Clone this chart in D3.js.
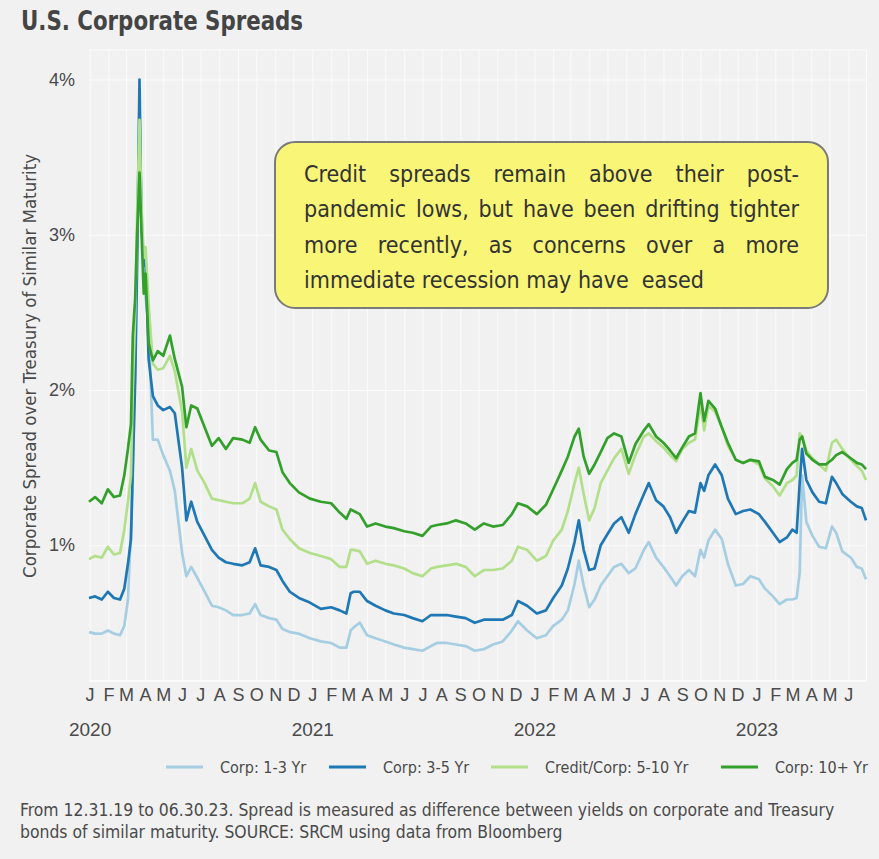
<!DOCTYPE html>
<html>
<head>
<meta charset="utf-8">
<script src="https://cdn.jsdelivr.net/npm/d3@7"></script>
<style>
  body { margin: 0; background: #f1f1f1; }
  svg { display: block; font-family: "Liberation Sans Narrow", "DejaVu Sans Condensed", "Roboto", sans-serif; }
  .grid line { stroke: #fbfbfb; stroke-width: 1; }
  .grid .domain { display: none; }
</style>
</head>
<body>
<svg id="chart" width="879" height="859"></svg>
<script>
// ---- data (percent spread over Treasury) ----
const dates = [
  "2019-12-31","2020-01-10","2020-01-21","2020-01-31","2020-02-10","2020-02-20","2020-02-27","2020-03-04","2020-03-09","2020-03-12",
  "2020-03-16","2020-03-19","2020-03-23","2020-03-26","2020-03-30","2020-04-02","2020-04-07","2020-04-14","2020-04-22","2020-05-01",
  "2020-05-12","2020-05-20","2020-06-01","2020-06-08","2020-06-16","2020-06-26","2020-07-08","2020-07-20","2020-07-31","2020-08-12",
  "2020-08-24","2020-09-08","2020-09-20","2020-09-29","2020-10-08","2020-10-22","2020-11-03","2020-11-13","2020-11-25","2020-12-10",
  "2020-12-28","2021-01-15","2021-02-01","2021-02-15","2021-02-26","2021-03-05","2021-03-10","2021-03-20","2021-04-01","2021-04-15",
  "2021-05-01","2021-05-15","2021-06-01","2021-06-15","2021-07-01","2021-07-15","2021-07-25","2021-08-10","2021-08-25","2021-09-10",
  "2021-09-25","2021-10-10","2021-10-25","2021-11-10","2021-11-25","2021-12-05","2021-12-20","2022-01-05","2022-01-20","2022-02-01",
  "2022-02-15","2022-02-25","2022-03-08","2022-03-15","2022-03-23","2022-04-01","2022-04-10","2022-04-20","2022-05-01","2022-05-12",
  "2022-05-24","2022-06-05","2022-06-16","2022-06-30","2022-07-08","2022-07-20","2022-08-01","2022-08-12","2022-08-22","2022-09-01",
  "2022-09-12","2022-09-22","2022-10-01","2022-10-07","2022-10-14","2022-10-25","2022-11-05","2022-11-15","2022-11-28","2022-12-10",
  "2022-12-22","2023-01-05","2023-01-15","2023-01-28","2023-02-08","2023-02-20","2023-03-01","2023-03-08","2023-03-13","2023-03-17",
  "2023-03-24","2023-04-03","2023-04-14","2023-04-25","2023-05-05","2023-05-12","2023-05-22","2023-06-05","2023-06-15","2023-06-23",
  "2023-06-30"
];

const corp13 = [
  0.44,0.43,0.43,0.45,0.43,0.42,0.48,0.65,1.10,1.45,
  2.20,2.90,3.80,3.20,2.70,2.60,2.40,1.68,1.68,1.58,
  1.48,1.35,0.95,0.80,0.86,0.79,0.70,0.61,0.60,0.58,
  0.55,0.55,0.56,0.62,0.55,0.53,0.52,0.46,0.44,0.43,
  0.40,0.38,0.37,0.34,0.34,0.45,0.47,0.50,0.42,0.40,
  0.38,0.36,0.34,0.33,0.32,0.35,0.37,0.37,0.36,0.35,
  0.32,0.33,0.36,0.38,0.45,0.51,0.45,0.40,0.42,0.48,
  0.52,0.58,0.75,0.90,0.74,0.60,0.65,0.74,0.80,0.86,
  0.88,0.82,0.85,0.97,1.02,0.92,0.86,0.80,0.74,0.80,
  0.84,0.80,0.97,0.92,1.03,1.10,1.04,0.88,0.74,0.75,
  0.80,0.78,0.72,0.67,0.62,0.65,0.65,0.66,0.82,1.45,
  1.15,1.06,0.99,0.98,1.12,1.08,0.96,0.92,0.86,0.85,
  0.78
];

const corp35 = [
  0.66,0.67,0.65,0.70,0.66,0.65,0.72,0.88,1.04,1.50,
  2.08,2.80,4.00,3.10,2.80,2.85,2.20,1.96,1.90,1.87,
  1.89,1.85,1.50,1.16,1.28,1.15,1.06,0.97,0.92,0.89,
  0.88,0.87,0.89,0.98,0.87,0.86,0.84,0.77,0.70,0.66,
  0.63,0.59,0.60,0.58,0.56,0.69,0.70,0.70,0.64,0.61,
  0.58,0.56,0.55,0.53,0.51,0.55,0.55,0.55,0.54,0.53,
  0.50,0.52,0.52,0.52,0.55,0.64,0.61,0.56,0.58,0.66,
  0.74,0.85,1.02,1.16,0.97,0.84,0.85,1.00,1.07,1.14,
  1.18,1.08,1.20,1.33,1.40,1.29,1.25,1.18,1.08,1.15,
  1.22,1.21,1.40,1.35,1.45,1.52,1.45,1.30,1.20,1.22,
  1.23,1.20,1.15,1.08,1.02,1.05,1.10,1.08,1.40,1.62,
  1.42,1.34,1.28,1.27,1.44,1.40,1.33,1.28,1.25,1.24,
  1.16
];

const credit510 = [
  0.91,0.93,0.92,0.99,0.94,0.95,1.10,1.28,1.45,2.00,
  2.50,3.10,3.74,3.20,2.85,2.92,2.55,2.17,2.13,2.14,
  2.22,2.12,1.86,1.50,1.62,1.48,1.40,1.30,1.29,1.28,
  1.27,1.27,1.30,1.40,1.28,1.25,1.23,1.10,1.04,0.98,
  0.95,0.93,0.91,0.86,0.86,0.97,0.97,0.96,0.88,0.90,
  0.88,0.87,0.85,0.82,0.80,0.85,0.86,0.87,0.88,0.86,
  0.80,0.84,0.84,0.85,0.90,0.99,0.97,0.90,0.93,1.03,
  1.10,1.22,1.40,1.50,1.33,1.16,1.24,1.40,1.48,1.56,
  1.62,1.46,1.58,1.70,1.72,1.67,1.63,1.58,1.54,1.62,
  1.66,1.68,1.91,1.74,1.90,1.86,1.76,1.64,1.55,1.53,
  1.55,1.52,1.43,1.38,1.32,1.40,1.42,1.45,1.72,1.70,
  1.61,1.56,1.52,1.48,1.66,1.68,1.62,1.55,1.51,1.48,
  1.42
];

const corp10 = [
  1.28,1.31,1.27,1.36,1.31,1.32,1.45,1.62,1.78,2.35,
  2.60,3.00,3.40,3.05,2.62,2.75,2.30,2.19,2.25,2.22,
  2.35,2.20,2.02,1.76,1.90,1.88,1.76,1.64,1.69,1.62,
  1.69,1.68,1.66,1.76,1.68,1.61,1.60,1.47,1.40,1.34,
  1.30,1.28,1.27,1.21,1.17,1.23,1.22,1.20,1.12,1.14,
  1.12,1.11,1.09,1.08,1.06,1.12,1.13,1.14,1.16,1.14,
  1.10,1.14,1.12,1.13,1.20,1.27,1.25,1.20,1.26,1.36,
  1.48,1.57,1.70,1.75,1.57,1.46,1.52,1.60,1.69,1.72,
  1.70,1.53,1.65,1.74,1.78,1.70,1.66,1.61,1.56,1.63,
  1.70,1.72,1.98,1.80,1.93,1.88,1.76,1.66,1.55,1.53,
  1.55,1.54,1.44,1.42,1.39,1.49,1.53,1.55,1.68,1.70,
  1.59,1.55,1.52,1.52,1.55,1.58,1.60,1.56,1.53,1.52,
  1.49
];

const seriesNames = ["Corp: 1-3 Yr", "Corp: 3-5 Yr", "Credit/Corp: 5-10 Yr", "Corp: 10+ Yr"];
const seriesValues = [corp13, corp35, credit510, corp10];
const seriesColors = ["#a6cee3", "#1f78b4", "#b2df8a", "#33a02c"];

const yTicks = [1, 2, 3, 4];
const monthLetters = ["J", "F", "M", "A", "M", "J", "J", "A", "S", "O", "N", "D"];
const yearLabels = ["2020", "2021", "2022", "2023"];

const titleText = "U.S. Corporate Spreads";
const yTitle = "Corporate Spread over Treasury of Similar Maturity";
const noteLines = [
  "Credit spreads remain above their post-",
  "pandemic lows, but have been drifting tighter",
  "more recently, as concerns over a more",
  "immediate recession may have  eased"
];
const footLines = [
  "From 12.31.19 to 06.30.23. Spread is measured as difference between yields on corporate and Treasury",
  "bonds of similar maturity. SOURCE: SRCM using data from Bloomberg"
];

// ---- layout ----
const svg = d3.select("#chart");
const plot = { left: 89, right: 866, top: 50, bottom: 681 };
const textColor = "#4a4a4a";
const parse = d3.timeParse("%Y-%m-%d");
const dateObjs = dates.map(parse);

const x = d3.scaleTime()
  .domain([parse("2019-12-31"), parse("2023-06-30")])
  .range([plot.left, plot.right]);
const y = d3.scaleLinear()
  .domain([0.125, 4.19])
  .range([plot.bottom, plot.top]);

// title (squeezed to the width of the condensed original)
svg.append("text")
  .attr("x", 21).attr("y", 30)
  .attr("font-size", 26).attr("font-weight", "bold")
  .attr("fill", "#444")
  .attr("textLength", 282)
  .attr("lengthAdjust", "spacingAndGlyphs")
  .text(titleText);

// gridlines
const monthStarts = d3.timeMonth.range(parse("2020-01-01"), parse("2023-07-01"));
svg.append("g")
  .attr("class", "grid")
  .attr("transform", `translate(0,${plot.bottom})`)
  .call(d3.axisBottom(x).tickValues(monthStarts.concat([parse("2023-06-30")])).tickSize(-(plot.bottom - plot.top)).tickFormat(""));
svg.append("g")
  .attr("class", "grid")
  .attr("transform", `translate(${plot.left},0)`)
  .call(d3.axisLeft(y).tickValues(yTicks).tickSize(-(plot.right - plot.left)).tickFormat(""));
svg.append("line")
  .attr("x1", plot.left).attr("x2", plot.right)
  .attr("y1", plot.top).attr("y2", plot.top)
  .attr("stroke", "#fbfbfb");
svg.append("line")
  .attr("x1", plot.left).attr("x2", plot.right)
  .attr("y1", plot.bottom).attr("y2", plot.bottom)
  .attr("stroke", "#fbfbfb").attr("stroke-width", 2);

// y axis labels
const yAxis = svg.append("g")
  .attr("transform", `translate(${plot.left},0)`)
  .call(d3.axisLeft(y).tickValues(yTicks).tickSize(0).tickPadding(14).tickFormat(d => d + "%"));
yAxis.select(".domain").remove();
yAxis.selectAll("text")
  .attr("font-size", 18).attr("fill", textColor)
  .style("font-family", "inherit");

svg.append("text")
  .attr("transform", "translate(36,366) rotate(-90)")
  .attr("text-anchor", "middle")
  .attr("font-size", 18.5).attr("fill", textColor)
  .text(yTitle);

// x axis: month letters and years
const xAxis = svg.append("g")
  .attr("transform", `translate(0,${plot.bottom})`)
  .call(d3.axisBottom(x).tickValues(monthStarts).tickSize(0).tickPadding(7).tickFormat(d => monthLetters[d.getMonth()]));
xAxis.select(".domain").remove();
xAxis.selectAll("text")
  .attr("font-size", 18).attr("fill", textColor)
  .style("font-family", "inherit");

const yearAxis = svg.append("g")
  .attr("transform", `translate(0,${plot.bottom + 38})`)
  .call(d3.axisBottom(x).tickValues(yearLabels.map(d => parse(d + "-01-01"))).tickSize(0).tickPadding(4).tickFormat(d3.timeFormat("%Y")));
yearAxis.select(".domain").remove();
yearAxis.selectAll("text")
  .attr("font-size", 19).attr("fill", textColor)
  .style("font-family", "inherit");

// series lines
const line = d3.line()
  .x((d, i) => x(dateObjs[i]))
  .y(d => y(d));

svg.append("g")
  .selectAll("path")
  .data(seriesValues)
  .enter().append("path")
    .attr("d", d => line(d))
    .attr("fill", "none")
    .attr("stroke", (d, i) => seriesColors[i])
    .attr("stroke-width", 2.7)
    .attr("stroke-linejoin", "round");

// annotation box with justified text
const box = { x: 275, y: 142, w: 553, h: 166 };
svg.append("rect")
  .attr("x", box.x).attr("y", box.y)
  .attr("width", box.w).attr("height", box.h)
  .attr("rx", 20).attr("ry", 20)
  .attr("fill", "#f8f577")
  .attr("stroke", "#7a7a7a").attr("stroke-width", 2);

const noteLeft = 304, noteRight = 799, noteFont = 23;
noteLines.forEach((ln, i) => {
  const by = 182 + i * 35.3;
  if (i === noteLines.length - 1) {
    svg.append("text")
      .attr("x", noteLeft).attr("y", by)
      .attr("font-size", noteFont).attr("fill", "#333")
      .style("white-space", "pre")
      .text(ln);
    return;
  }
  const words = ln.split(" ");
  const g = svg.append("g");
  const nodes = words.map(w => g.append("text")
    .attr("y", by)
    .attr("font-size", noteFont).attr("fill", "#333")
    .text(w));
  const widths = nodes.map(n => n.node().getComputedTextLength());
  const gap = (noteRight - noteLeft - d3.sum(widths)) / (words.length - 1);
  let cx = noteLeft;
  nodes.forEach((n, j) => {
    n.attr("x", cx);
    cx += widths[j] + gap;
  });
});

// legend
const legendX = [166, 329, 491, 721];
const legendY = 767;
const legend = svg.append("g")
  .selectAll("g")
  .data(seriesNames)
  .enter().append("g")
    .attr("transform", (d, i) => `translate(${legendX[i]},${legendY})`);
legend.append("line")
  .attr("x1", 0).attr("x2", 37)
  .attr("stroke", (d, i) => seriesColors[i])
  .attr("stroke-width", 3);
legend.append("text")
  .attr("x", 54).attr("dy", "0.35em")
  .attr("font-size", 16).attr("fill", textColor)
  .text(d => d);

// footnote
svg.append("g")
  .selectAll("text")
  .data(footLines)
  .enter().append("text")
    .attr("x", 20)
    .attr("y", (d, i) => 816 + i * 21.5)
    .attr("font-size", 17.4).attr("fill", textColor)
    .text(d => d);
</script>
</body>
</html>
